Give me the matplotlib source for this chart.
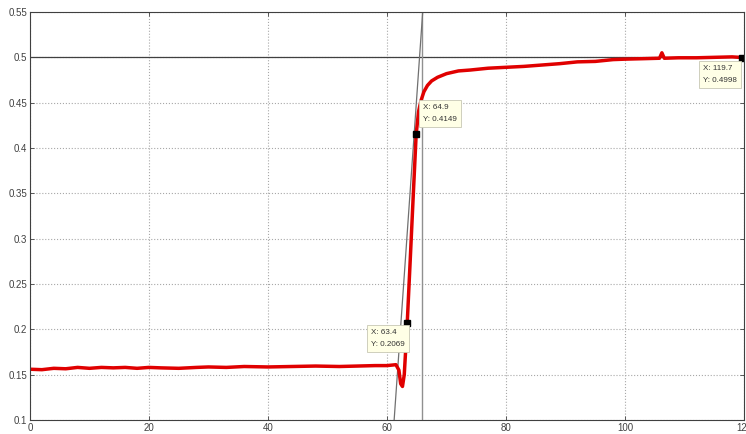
import matplotlib.pyplot as plt

t = [0, 2, 4, 6, 8, 10, 12, 14, 16, 18, 20, 22, 25, 28, 30, 33, 36, 40, 44, 48,
     52, 55, 58, 60, 61.5, 62.0, 62.3, 62.6, 62.9, 63.4, 63.9, 64.4, 64.9, 65.3,
     65.7, 66.2, 66.8, 67.5, 68.5, 70, 72, 74, 77, 80, 83, 86, 89, 92, 95, 98,
     100, 103, 105.8, 106.2, 106.6, 109, 112, 115, 118, 119.7]
v = [0.156, 0.1555, 0.157, 0.1565, 0.158, 0.157, 0.158, 0.1575, 0.158, 0.157,
     0.158, 0.1575, 0.157, 0.158, 0.1585, 0.158, 0.159, 0.1585, 0.159, 0.1595,
     0.159, 0.1595, 0.160, 0.160, 0.161, 0.155, 0.140, 0.137, 0.150, 0.2069,
     0.276, 0.346, 0.4149, 0.44, 0.452, 0.462, 0.469, 0.474, 0.478, 0.482,
     0.485, 0.486, 0.488, 0.489, 0.490, 0.4915, 0.493, 0.495, 0.4955, 0.4975,
     0.498, 0.4985, 0.499, 0.505, 0.499, 0.4995, 0.4995, 0.500, 0.5005, 0.4998]

# data tips
tip_x = [63.4, 64.9, 119.7]
tip_y = [0.2069, 0.4149, 0.4998]
tip_off = [(-26, -4), (5, 22), (-28.5, -5.5)]

# construction lines
tangent_x = [61.2, 66.0]
tangent_y = [0.1, 0.55]
vline_x = 65.9
hline_y = 0.5

plt.rcParams['font.family'] = ['Liberation Sans Narrow', 'Liberation Sans', 'DejaVu Sans']

fig = plt.figure(figsize=(7.46, 4.34), dpi=100)
ax = fig.add_axes([30 / 746, 14 / 434, 714 / 746, 408 / 434])

ax.grid(True, linestyle=':', color='#a8a8a8', linewidth=0.8)
ax.set_axisbelow(True)

ax.axhline(hline_y, color='#404040', linewidth=0.9)
ax.axvline(vline_x, color='#909090', linewidth=1.0)
ax.plot(tangent_x, tangent_y, color='#707070', linewidth=0.9)

ax.plot(t, v, color='#e00000', linewidth=2.5, solid_joinstyle='round')
ax.plot(tip_x, tip_y, 's', color='black', markersize=4.5, linestyle='none')

for x, y, off in zip(tip_x, tip_y, tip_off):
    ax.annotate(f"X: {x:g}\nY: {y:.4f}", (x, y), xytext=off,
                textcoords='offset points', ha='left', va='top', fontsize=5.8,
                color='#333333', linespacing=2.0,
                bbox=dict(boxstyle='square,pad=0.5', fc='#ffffe6', ec='#c8c8b4', lw=0.6))

ax.set_xlim(0, 120)
ax.set_ylim(0.1, 0.55)
ax.set_xticks(range(0, 121, 20))
ax.set_yticks([0.1, 0.15, 0.2, 0.25, 0.3, 0.35, 0.4, 0.45, 0.5, 0.55])
ax.set_yticklabels(['0.1', '0.15', '0.2', '0.25', '0.3', '0.35', '0.4', '0.45', '0.5', '0.55'])
ax.tick_params(direction='in', length=3, width=0.6, labelsize=7, colors='#404040',
               top=True, right=True, pad=2)
for s in ax.spines.values():
    s.set_color('#404040')
    s.set_linewidth(0.8)

fig.savefig('out.png', dpi=100)
